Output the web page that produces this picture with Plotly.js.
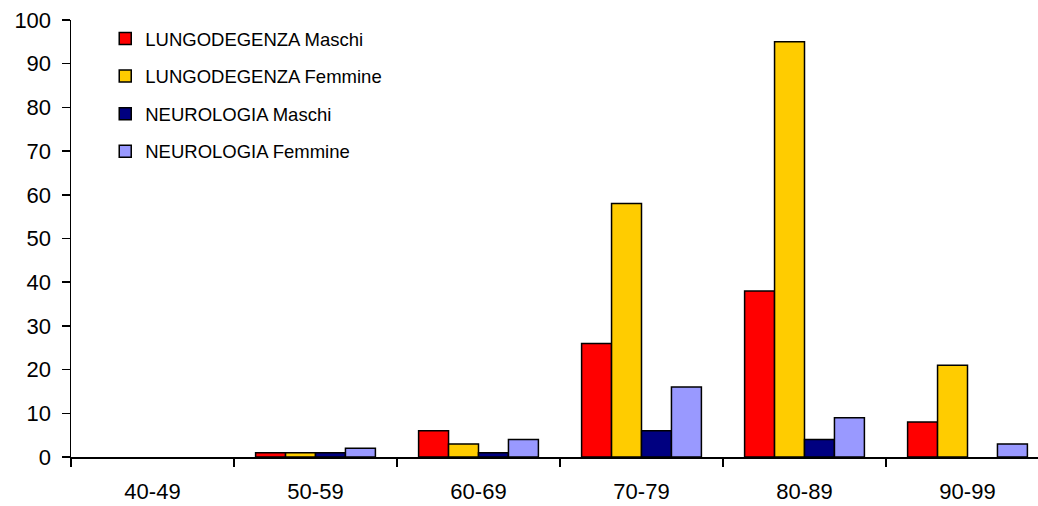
<!DOCTYPE html>
<html>
<head>
<meta charset="utf-8">
<script src="https://cdn.plot.ly/plotly-3.0.1.min.js"></script>
<style>
  html, body { margin: 0; padding: 0; background: #fff; overflow: hidden; }
  #chart { width: 1051px; height: 506px; }
</style>
</head>
<body>
<div id="chart"></div>
<script>
// Age classes (x axis)
const ageClasses = ["40-49", "50-59", "60-69", "70-79", "80-89", "90-99"];

// Patients per ward and sex
const lungodegenzaMaschi  = [0, 1, 6, 26, 38, 8];
const lungodegenzaFemmine = [0, 1, 3, 58, 95, 21];
const neurologiaMaschi    = [0, 1, 1, 6, 4, 0];
const neurologiaFemmine   = [0, 2, 4, 16, 9, 3];

const seriesNames  = ["LUNGODEGENZA Maschi", "LUNGODEGENZA Femmine", "NEUROLOGIA Maschi", "NEUROLOGIA Femmine"];
const seriesValues = [lungodegenzaMaschi, lungodegenzaFemmine, neurologiaMaschi, neurologiaFemmine];
const seriesColors = ["#FF0000", "#FFCC00", "#000080", "#9999FF"];

// Empty classes are left blank instead of showing a flat outlined bar
const traces = seriesNames.map((name, i) => ({
  type: "bar",
  name: name,
  x: ageClasses,
  y: seriesValues[i].map(v => (v === 0 ? null : v)),
  legendgroup: "g" + i,
  marker: { color: seriesColors[i], line: { color: "#000", width: 1.5 } },
  hoverinfo: "x+y+name"
}));

const fontFamily = "Liberation Sans, Arial, sans-serif";

const layout = {
  width: 1051,
  height: 506,
  margin: { l: 71, r: 2, t: 20, b: 49 },
  paper_bgcolor: "#fff",
  plot_bgcolor: "#fff",
  font: { family: fontFamily, color: "#000" },
  barmode: "group",
  bargap: 0.265,
  bargroupgap: 0,
  showlegend: true,
  legend: {
    x: 0.035, y: 1.0, xanchor: "left", yanchor: "top",
    font: { family: fontFamily, size: 18.5, color: "#000" },
    bgcolor: "rgba(0,0,0,0)",
    traceorder: "grouped",
    tracegroupgap: 10.5,
    itemwidth: 30
  },
  xaxis: {
    type: "category",
    showline: true, linecolor: "#000", linewidth: 1.5,
    ticks: "outside", tickson: "boundaries", ticklen: 8, tickwidth: 1.5, tickcolor: "#000",
    tickfont: { family: fontFamily, size: 22, color: "#000" },
    ticklabelstandoff: 14,
    showgrid: false, zeroline: false, fixedrange: true
  },
  yaxis: {
    range: [0, 100],
    tickmode: "linear", tick0: 0, dtick: 10,
    showline: true, linecolor: "#000", linewidth: 1.5,
    ticks: "outside", ticklen: 8, tickwidth: 1.5, tickcolor: "#000",
    tickfont: { family: fontFamily, size: 22, color: "#000" },
    ticklabelstandoff: 6,
    showgrid: false, zeroline: false, fixedrange: true
  }
};

Plotly.newPlot("chart", traces, layout, { staticPlot: true, displayModeBar: false });
</script>
</body>
</html>
